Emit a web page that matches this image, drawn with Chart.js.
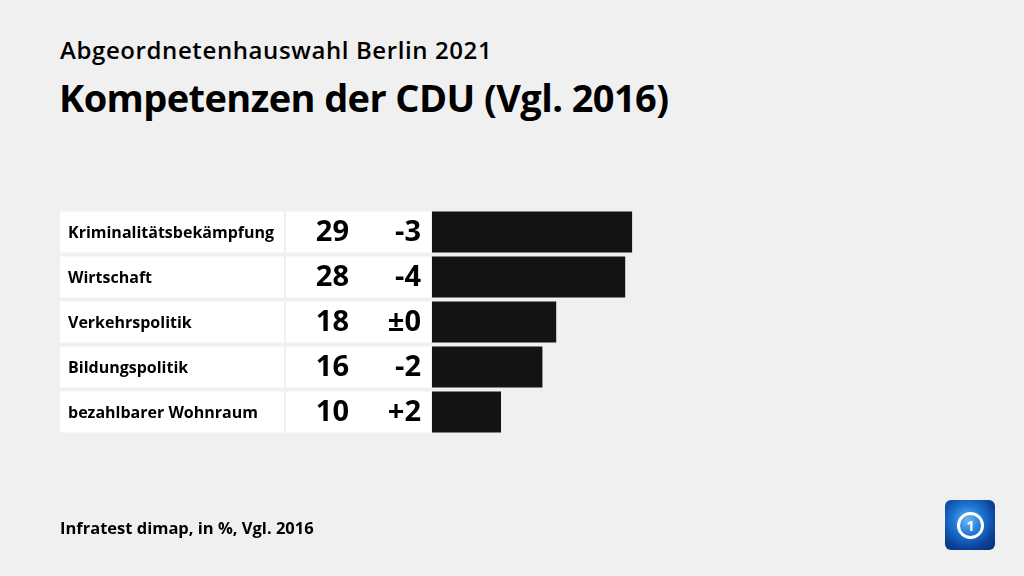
<!DOCTYPE html>
<html>
<head>
<meta charset="utf-8">
<script src="https://cdn.jsdelivr.net/npm/chart.js@4"></script>
<style>
  html, body { margin: 0; padding: 0; background: #f0f0f0; }
  #wrap { position: relative; width: 1024px; height: 576px; overflow: hidden; font-family: "Open Sans", sans-serif; color: #000; }
  #sub { position: absolute; left: 60px; top: 33px; font-size: 24px; font-weight: 600; letter-spacing: 0.6px; }
  #title { position: absolute; left: 59px; top: 71px; font-size: 38px; font-weight: 700; letter-spacing: -0.6px; }
  #source { position: absolute; left: 60px; top: 516px; font-size: 16.5px; font-weight: 700; }
  #logo { position: absolute; left: 945px; top: 500px; width: 50px; height: 50px; border-radius: 6px;
    background: radial-gradient(circle at 45% 40%, #6cb8f2 0%, #1f78d6 35%, #0b4299 70%, #062a70 100%); }
  #logo .ring { position: absolute; left: 12px; top: 12px; width: 21px; height: 21px; border: 3px solid #fff; border-radius: 50%;
    color: #fff; font: 700 15px "Open Sans", sans-serif; text-align: center; line-height: 21px; }
  canvas { position: absolute; left: 0; top: 0; }
</style>
</head>
<body>
<div id="wrap">
  <div id="sub">Abgeordnetenhauswahl Berlin 2021</div>
  <div id="title">Kompetenzen der CDU (Vgl. 2016)</div>
  <canvas id="chart" width="1024" height="576"></canvas>
  <div id="source">Infratest dimap, in %, Vgl. 2016</div>
  <div id="logo"><div class="ring">1</div></div>
</div>
<script>
const categories = ['Kriminalitätsbekämpfung', 'Wirtschaft', 'Verkehrspolitik', 'Bildungspolitik', 'bezahlbarer Wohnraum'];
const values = [29, 28, 18, 16, 10];
const changes = ['-3', '-4', '±0', '-2', '+2'];

const rowBoxes = {
    id: 'rowBoxes',
    beforeDatasetsDraw(chart) {
        const ctx = chart.ctx;
        const meta = chart.getDatasetMeta(0);
        ctx.save();
        meta.data.forEach((bar, i) => {
            const h = bar.height;
            const top = bar.y - h / 2;
            ctx.fillStyle = '#ffffff';
            ctx.fillRect(60, top, 224, h);
            ctx.fillRect(286, top, 145, h);

            ctx.fillStyle = '#000';
            ctx.textBaseline = 'middle';
            ctx.textAlign = 'left';
            ctx.font = '700 16px "Open Sans", sans-serif';
            ctx.fillText(categories[i], 68, bar.y + 1);

            ctx.textAlign = 'right';
            ctx.font = '700 29px "Open Sans", sans-serif';
            ctx.fillText(String(values[i]), 349, bar.y + 1);
            ctx.fillText(changes[i], 421, bar.y + 1);
        });
        ctx.restore();
    }
};

new Chart(document.getElementById('chart'), {
    type: 'bar',
    data: {
        labels: categories,
        datasets: [{
            data: values,
            backgroundColor: '#131313',
            borderWidth: 0,
            categoryPercentage: 1,
            barPercentage: 41 / 45,
        }],
    },
    options: {
        indexAxis: 'y',
        responsive: false,
        animation: false,
        layout: { padding: { left: 432, right: 40, top: 209.5, bottom: 141.5 } },
        plugins: {
            legend: { display: false },
            tooltip: { enabled: false },
        },
        scales: {
            x: { display: false, min: 0, max: 80 },
            y: { display: false },
        },
    },
    plugins: [rowBoxes],
});
</script>
</body>
</html>
